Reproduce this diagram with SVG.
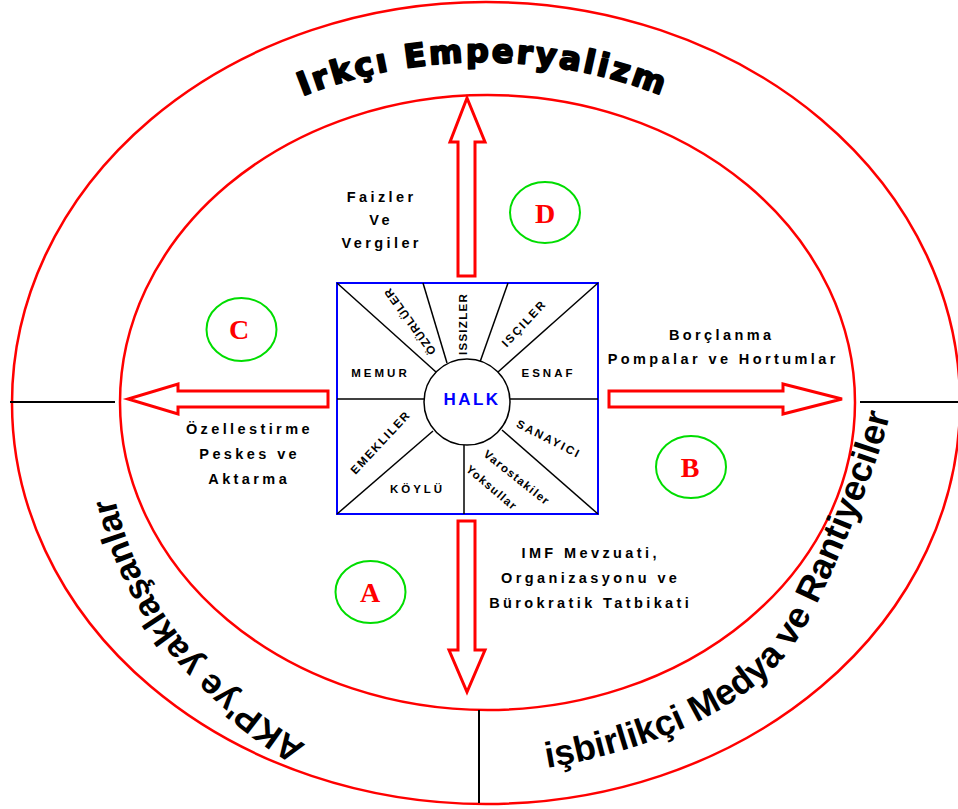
<svg xmlns="http://www.w3.org/2000/svg" width="958" height="809" viewBox="0 0 958 809">
<defs>
<style>
.ring{fill:none;stroke:#ff0000;stroke-width:2.5}
.sep{stroke:#000;stroke-width:2}
.arrow{fill:#fff;stroke:#ff0000;stroke-width:3;stroke-linejoin:miter}
.badge{fill:#fff;stroke:#00dd00;stroke-width:2}
.badge-t{font-family:"Liberation Serif","Times New Roman",serif;font-weight:bold;font-size:28px;fill:#ff0000;text-anchor:middle}
.lbl{font-family:"Liberation Sans",Arial,sans-serif;font-weight:bold;font-size:14.5px;letter-spacing:3.4px;fill:#000;text-anchor:middle}
.cell{font-family:"Liberation Sans",Arial,sans-serif;font-weight:bold;font-size:11.5px;fill:#000;text-anchor:middle}
.div{stroke:#000;stroke-width:1.5}
.arc-t{font-family:"Liberation Sans",Arial,sans-serif;font-weight:bold;fill:#000}
</style>
<path id="p-top" d="M 69 403 A 414 341 0 0 1 897 403"/>
<path id="p-left" d="M 306 745 C 220 690, 140 620, 112 485 L 104 420"/>
<path id="p-right" d="M 547 768 C 640 752, 747 715, 797 640 C 824.5 598, 878 468.5, 891 410 L 900 340"/>
</defs>
<rect width="958" height="809" fill="#fff"/>

<g id="rings">
<ellipse class="ring" cx="486" cy="403" rx="474" ry="401"/>
<ellipse class="ring" cx="487.5" cy="402.5" rx="367.5" ry="307.5"/>
<line class="sep" x1="10" y1="402" x2="115" y2="402"/>
<line class="sep" x1="860" y1="402" x2="958" y2="402"/>
<line class="sep" x1="479" y1="710" x2="479" y2="803"/>
</g>

<g id="ring-labels">
<text id="t-irkci" class="arc-t" style="font-family:'DejaVu Sans','Liberation Sans',sans-serif;font-size:32px;letter-spacing:2.8px;stroke:#000;stroke-width:2;stroke-linejoin:round"><textPath href="#p-top" startOffset="50%" text-anchor="middle">Irkçı Emperyalizm</textPath></text>
<text id="t-akp" class="arc-t" style="font-size:35px"><textPath href="#p-left">AKP'ye yaklaşanlar</textPath></text>
<text id="t-isbirlikci" class="arc-t" style="font-size:36px"><textPath href="#p-right">işbirlikçi Medya ve Rantiyeciler</textPath></text>
</g>

<g id="connectors">
<polygon id="arrow-up" class="arrow" points="458,276 458,142 450,142 467,98 485,142 475,142 475,276"/>
<polygon id="arrow-down" class="arrow" points="458,521 458,650 449,650 467,692 485,650 475,650 475,521"/>
<polygon id="arrow-left" class="arrow" points="328,391 178,391 178,384 128,399 178,414 178,407 328,407"/>
<polygon id="arrow-right" class="arrow" points="609,391 783,391 783,384 842,399 783,414 783,407 609,407"/>
</g>

<g id="badge-d"><ellipse class="badge" cx="545" cy="212.5" rx="35" ry="30.5"/><text class="badge-t" x="545" y="223">D</text></g>
<g id="badge-c"><ellipse class="badge" cx="241.5" cy="329.5" rx="35" ry="31.5"/><text class="badge-t" x="239" y="339">C</text></g>
<g id="badge-b"><ellipse class="badge" cx="691" cy="467" rx="35" ry="31"/><text class="badge-t" x="690" y="477">B</text></g>
<g id="badge-a"><ellipse class="badge" cx="370.5" cy="592" rx="35" ry="31"/><text class="badge-t" x="370" y="602">A</text></g>

<g id="label-d">
<text class="lbl" x="381.7" y="202">Faizler</text>
<text class="lbl" x="381.2" y="225">Ve</text>
<text class="lbl" x="381.7" y="248">Vergiler</text>
</g>
<g id="label-b">
<text class="lbl" x="721.7" y="340">Borçlanma</text>
<text class="lbl" x="723.2" y="364">Pompalar ve Hortumlar</text>
</g>
<g id="label-c">
<text class="lbl" x="249.4" y="434">Özellestirme</text>
<text class="lbl" x="249.7" y="459">Peskes ve</text>
<text class="lbl" x="249.2" y="484">Aktarma</text>
</g>
<g id="label-a">
<text class="lbl" x="590.7" y="558">IMF Mevzuati,</text>
<text class="lbl" x="590.7" y="583">Organizasyonu ve</text>
<text class="lbl" x="590.7" y="608">Bürokratik Tatbikati</text>
</g>

<g id="halk-box">
<rect x="337" y="283" width="261" height="231" fill="#fff" stroke="#0000ff" stroke-width="2"/>
<line class="div" x1="337" y1="283" x2="436" y2="372"/>
<line class="div" x1="423" y1="283" x2="447" y2="363"/>
<line class="div" x1="508" y1="283" x2="480" y2="362"/>
<line class="div" x1="598" y1="283" x2="498" y2="372"/>
<line class="div" x1="337" y1="399" x2="424" y2="399"/>
<line class="div" x1="510" y1="399" x2="598" y2="399"/>
<line class="div" x1="337" y1="514" x2="433" y2="431"/>
<line class="div" x1="464" y1="445" x2="464" y2="514"/>
<line class="div" x1="598" y1="514" x2="502" y2="430"/>
<circle cx="467" cy="402" r="43" fill="#fff" stroke="#000" stroke-width="1.5"/>
<text class="cell" x="472" y="405" style="font-size:17px;letter-spacing:2.5px;fill:#0000ff">HALK</text>
<text class="cell" x="380.5" y="377" style="letter-spacing:3px">MEMUR</text>
<text class="cell" x="548.5" y="377" style="letter-spacing:3px">ESNAF</text>
<text class="cell" x="417.5" y="493" style="letter-spacing:3px">KÖYLÜ</text>
<text class="cell" transform="translate(467,324) rotate(-90)" style="letter-spacing:1.3px">ISSIZLER</text>
<text class="cell" transform="translate(527,326) rotate(-47)" style="letter-spacing:2px">ISÇILER</text>
<text class="cell" transform="translate(413,319) rotate(-126)" style="letter-spacing:1px">ÖZÜRLÜLER</text>
<text class="cell" transform="translate(383.5,445) rotate(-47)" style="letter-spacing:1.7px">EMEKLILER</text>
<text class="cell" transform="translate(547,442.5) rotate(27)" style="letter-spacing:2.1px">SANAYICI</text>
<text class="cell" transform="translate(514.3,480.7) rotate(38.4)" style="letter-spacing:1.3px">Varostakiler</text>
<text class="cell" transform="translate(489.2,490.7) rotate(40.4)" style="letter-spacing:1.3px">Yoksullar</text>
</g>
</svg>
